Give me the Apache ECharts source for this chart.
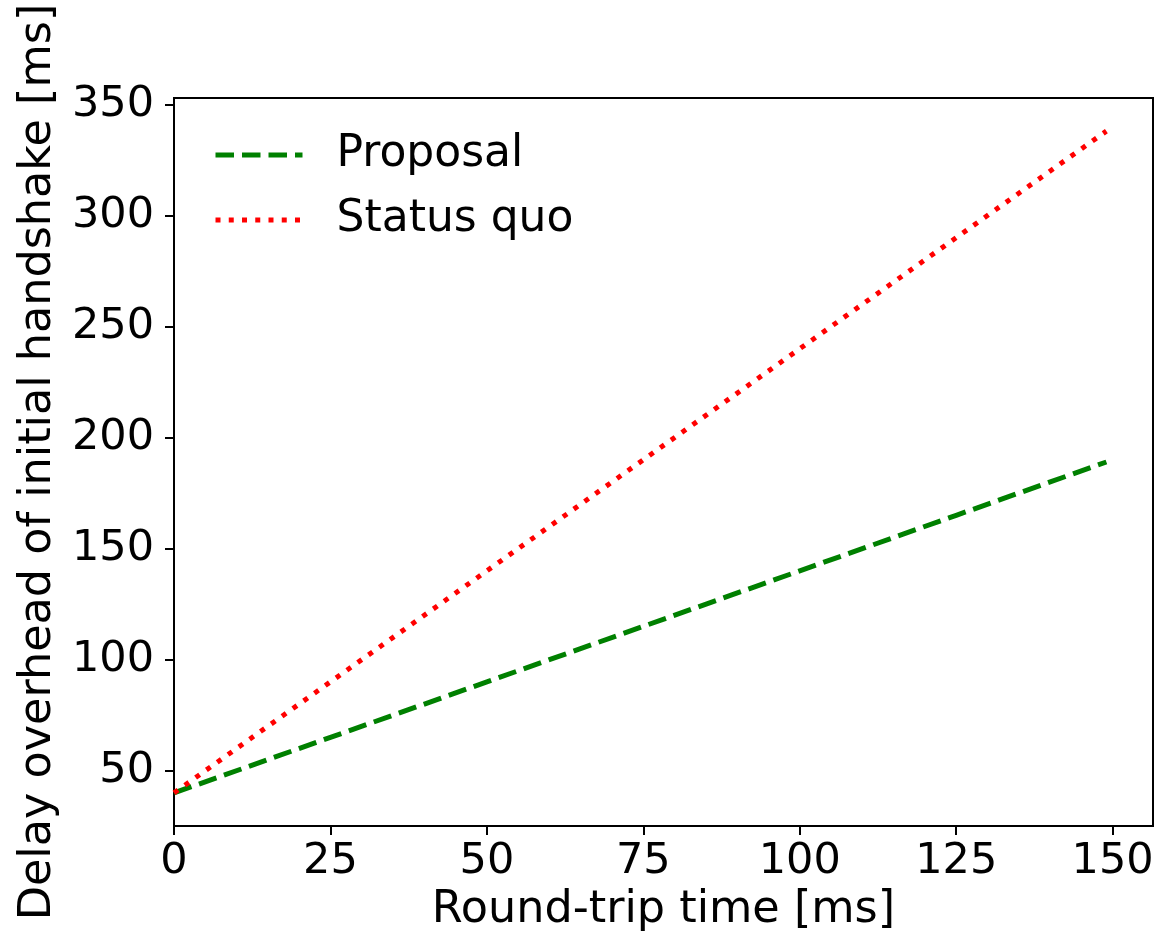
<!DOCTYPE html>
<html>
<head>
<meta charset="utf-8">
<script src="https://cdn.jsdelivr.net/npm/echarts@6/dist/echarts.min.js"></script>
<style>
html,body{margin:0;padding:0;background:#fff;}
#chart{width:1158px;height:940px;}
</style>
</head>
<body>
<div id="chart"></div>
<script>
// Data
const rtt = [0, 25, 50, 75, 100, 125, 149];
const proposal = [40, 65, 90, 115, 140, 165, 189];
const statusQuo = [40, 90, 140, 190, 240, 290, 338];
const xTicks = [0, 25, 50, 75, 100, 125, 150];
const yTicks = [50, 100, 150, 200, 250, 300, 350];
const seriesNames = ['Proposal', 'Status quo'];

const FONT = 'DejaVu Sans';
const FS = 43;
const NAME_FS = 44.5;
const LEG_FS = 44;

const DASH = [18.5, 8];
const DOT = [5, 8.25];

const chart = echarts.init(document.getElementById('chart'), null, {renderer: 'canvas'});

function pairs(xs, ys) { return xs.map((x, i) => [x, ys[i]]); }

function legendFor(name, top, color, dash) {
  return {
    left: 213, top: top, padding: 0, itemWidth: 87, itemHeight: 14, selectedMode: false,
    data: [name],
    itemStyle: {opacity: 0},
    lineStyle: {color: color, width: 5, type: dash, cap: 'butt', opacity: 1},
    textStyle: {fontFamily: FONT, fontSize: LEG_FS, color: '#000', lineHeight: 50, padding: [0, 0, 0, 29]}
  };
}

chart.setOption({
  animation: false,
  backgroundColor: '#fff',
  grid: {left: 174, right: 5, top: 98, bottom: 114, show: true, borderColor: '#000', borderWidth: 2, backgroundColor: 'transparent'},
  legend: [
    legendFor(seriesNames[0], 130, '#008000', DASH),
    legendFor(seriesNames[1], 195, '#ff0000', DOT)
  ],
  xAxis: {
    type: 'value', min: 0, max: 156.45,
    name: 'Round-trip time [ms]', nameLocation: 'middle', nameGap: 61,
    nameTextStyle: {fontFamily: FONT, fontSize: NAME_FS, color: '#000'},
    axisLine: {show: true, onZero: false, lineStyle: {color: '#000', width: 2}},
    axisTick: {show: true, inside: false, length: 9, lineStyle: {color: '#000', width: 2}, customValues: xTicks},
    axisLabel: {show: true, margin: 14, fontFamily: FONT, fontSize: FS, color: '#000', customValues: xTicks},
    splitLine: {show: false}
  },
  yAxis: {
    type: 'value', min: 25.1, max: 352.9,
    name: 'Delay overhead of initial handshake [ms]', nameLocation: 'middle', nameGap: 113,
    nameTextStyle: {fontFamily: FONT, fontSize: NAME_FS, color: '#000'},
    axisLine: {show: true, onZero: false, lineStyle: {color: '#000', width: 2}},
    axisTick: {show: true, inside: false, length: 9, lineStyle: {color: '#000', width: 2}, customValues: yTicks},
    axisLabel: {show: true, margin: 20, fontFamily: FONT, fontSize: FS, color: '#000', customValues: yTicks},
    splitLine: {show: false}
  },
  series: [
    {
      name: seriesNames[0], type: 'line', data: pairs(rtt, proposal),
      symbol: 'none', smooth: false,
      lineStyle: {color: '#008000', width: 5, type: DASH, cap: 'butt'},
      itemStyle: {color: '#008000'}
    },
    {
      name: seriesNames[1], type: 'line', data: pairs(rtt, statusQuo),
      symbol: 'none', smooth: false,
      lineStyle: {color: '#ff0000', width: 5, type: DOT, cap: 'butt'},
      itemStyle: {color: '#ff0000'}
    }
  ]
});
</script>
</body>
</html>
